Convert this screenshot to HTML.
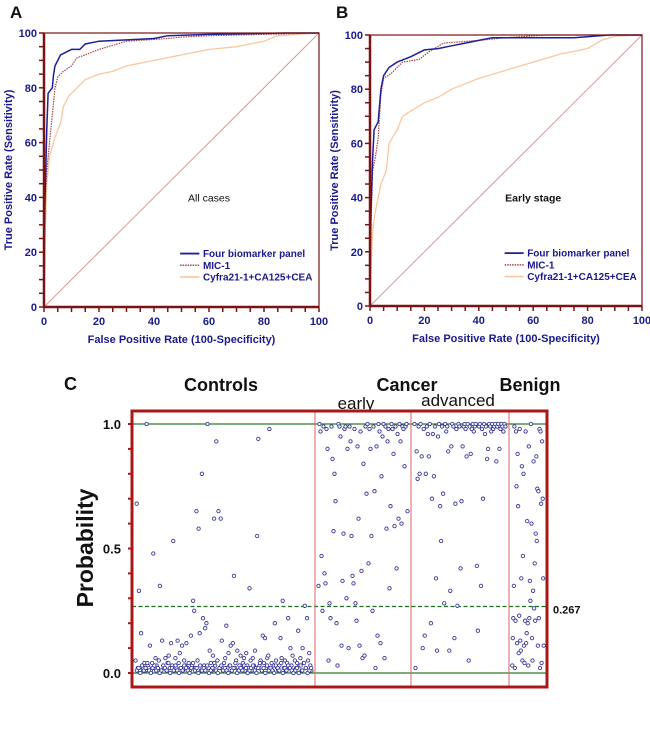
<!DOCTYPE html>
<html><head><meta charset="utf-8">
<style>
body{margin:0;background:#fff;width:650px;height:742px;overflow:hidden;font-family:"Liberation Sans",Arial,sans-serif;}
svg{position:absolute;left:0;top:0;}
</style></head>
<body>
<svg id="chart" width="650" height="742" viewBox="0 0 650 742" xmlns="http://www.w3.org/2000/svg"></svg>
<script>
// ===== Panel A data =====
const aFourX=[0,0,0.5,1,1.5,3,3.5,4,5,6,8,10,13,15,20,30,40,45,60,88,100];
const aFourY=[0,25,45,65,78,80,85,88,90,92,93,94,94,96,97,97.5,98,99,99.5,100,100];
const aMicX=[0,0.5,1,2,3,4,5,7,10,12,15,20,25,30,45,50,60,100];
const aMicY=[0,40,50,60,70,80,84,86,88,91,92,94,95.5,97,98,98.5,99,100];
const aCyfX=[0,0.5,1,2,4,6,7,9,12,15,20,25,30,40,50,60,70,80,85,100];
const aCyfY=[0,30,45,55,62,67,73,77,80,83,85,86,88,90,92,94,95,97,99,100];
// ===== Panel B data =====
const bFourX=[0,0,0.5,1,1.5,3,4,5,7,10,15,20,25,30,35,40,45,75,88,100];
const bFourY=[0,20,40,55,65,68,80,85,88,90,92,94.5,95,96,97,98,99,99,100,100];
const bMicX=[0,0.5,1,2,3,4,5,8,12,18,22,27,40,50,65,100];
const bMicY=[0,35,50,55,62,78,84,86,90,91,94,97,98,99,100,100];
const bCyfX=[0,0.5,1,2,3,4,6,7,10,12,15,20,25,30,35,40,50,60,70,80,85,90,100];
const bCyfY=[0,18,28,35,40,45,50,60,65,70,72,75,77,80,82,84,87,90,93,95,98,99.5,100];
const rocTicks=[0,20,40,60,80,100];
const seriesNames=["Four biomarker panel","MIC-1","Cyfra21-1+CA125+CEA"];
// ===== Panel C data =====
const groupNames=["Controls","Cancer","Benign"];
const subNames=["early","advanced"];
const probTicks=[0.0,0.5,1.0];
const cutoff=0.267;
const controls=[0.05,0.68,0.02,0.33,0.01,0.16,0.03,0.02,0.04,0.01,
1.0,0.03,0.02,0.11,0.01,0.04,0.48,0.02,0.06,0.03,
0.02,0.05,0.35,0.01,0.13,0.03,0.02,0.06,0.01,0.04,
0.07,0.02,0.12,0.03,0.53,0.01,0.06,0.02,0.13,0.04,
0.08,0.02,0.11,0.01,0.05,0.03,0.12,0.02,0.04,0.01,
0.15,0.03,0.29,0.25,0.02,0.65,0.05,0.58,0.16,0.01,
0.80,0.22,0.03,0.18,0.20,1.0,0.02,0.09,0.04,0.01,
0.07,0.62,0.03,0.93,0.05,0.65,0.02,0.62,0.13,0.01,
0.04,0.06,0.19,0.02,0.08,0.03,0.11,0.01,0.12,0.39,
0.02,0.05,0.09,0.01,0.03,0.07,0.02,0.04,0.06,0.01,
0.08,0.03,0.02,0.34,0.05,0.01,0.06,0.03,0.09,0.02,
0.55,0.94,0.03,0.05,0.01,0.15,0.04,0.14,0.02,0.06,
0.07,0.98,0.02,0.04,0.01,0.03,0.20,0.05,0.02,0.01,
0.03,0.14,0.06,0.29,0.02,0.05,0.01,0.04,0.22,0.02,
0.10,0.03,0.07,0.01,0.05,0.02,0.04,0.17,0.03,0.06,
0.01,0.10,0.04,0.27,0.02,0.22,0.05,0.08,0.03,0.01];
const controlsLow=[0.01,0.02,0.0,0.03,0.01,0.02,0.04,0.01,0.0,0.02,
0.03,0.01,0.02,0.0,0.01,0.03,0.02,0.01,0.04,0.0,
0.02,0.01,0.03,0.01,0.0,0.02,0.01,0.03,0.02,0.01,
0.0,0.02,0.04,0.01,0.02,0.0,0.03,0.01,0.02,0.01,
0.03,0.0,0.01,0.02,0.04,0.01,0.0,0.02,0.03,0.01,
0.02,0.01,0.0,0.03,0.01,0.02,0.04,0.0,0.01,0.02,
0.01,0.03,0.02,0.0,0.01,0.02,0.03,0.01,0.0,0.02,
0.04,0.01,0.02,0.0,0.03,0.01,0.02,0.01,0.0,0.03,
0.02,0.01,0.04,0.0,0.02,0.01,0.03,0.02,0.01,0.0,
0.01,0.02,0.0,0.03,0.01,0.04,0.02,0.0,0.01,0.02];
const early=[0.35,1.0,0.97,0.47,0.25,0.99,0.40,0.36,0.98,0.90,
0.05,0.28,0.22,0.99,0.86,0.57,0.80,0.69,0.20,0.03,
1.0,0.99,0.95,0.11,0.37,0.56,0.98,0.99,0.30,0.90,
0.10,0.99,0.93,0.55,0.39,0.36,0.98,0.28,0.21,0.91,
0.62,0.11,0.97,0.41,0.06,0.84,0.07,0.99,0.72,1.0,
0.44,0.98,0.90,0.55,0.25,0.99,0.73,0.02,0.91,0.15,
1.0,0.97,0.12,0.79,0.95,1.0,0.06,0.99,0.58,0.93,
0.98,0.34,0.67,1.0,0.98,0.88,0.59,0.99,0.42,0.96,
0.62,1.0,0.93,0.60,0.99,0.98,0.83,0.99,1.0,0.65];
const advanced=[1.0,0.02,0.89,0.78,0.99,0.80,1.0,0.87,0.10,0.98,
0.15,0.80,0.99,0.96,0.87,1.0,0.20,0.70,0.96,0.79,
0.99,0.38,0.09,0.95,1.0,0.67,0.53,0.99,0.72,0.28,
1.0,0.97,0.99,0.89,0.09,0.33,0.91,1.0,0.99,0.14,
0.68,0.98,0.27,1.0,0.99,0.42,0.69,0.91,0.99,1.0,
0.98,0.87,1.0,0.05,0.99,0.88,0.98,1.0,0.97,0.99,
1.0,0.43,0.17,0.99,1.0,0.35,0.98,0.70,1.0,0.96,
0.99,0.86,0.90,1.0,0.99,0.97,1.0,0.98,0.99,1.0,
0.85,0.99,1.0,0.90,0.98,1.0,0.99,0.97,1.0,0.99];
const benign=[0.03,0.14,0.22,0.35,0.99,0.02,0.21,0.97,0.75,0.12,
0.88,0.67,0.08,0.23,0.98,0.13,0.09,0.38,0.83,0.05,
0.47,0.80,0.11,0.04,0.21,0.97,0.12,0.16,0.61,0.20,
0.03,0.91,0.22,0.37,0.29,1.0,0.60,0.14,0.05,0.33,
0.85,0.26,0.44,0.21,0.56,0.87,0.53,0.74,0.11,0.73,
0.22,0.98,0.02,0.97,0.68,0.04,0.93,0.70,0.38,0.11];

const NS="http://www.w3.org/2000/svg";
const svg=document.getElementById('chart');
function mk(tag,attrs,parent,text){const e=document.createElementNS(NS,tag);for(const k in attrs)e.setAttribute(k,attrs[k]);if(text!==undefined)e.textContent=text;(parent||svg).appendChild(e);return e;}

const AX="#7a1414", BLUE="#1a1a8c";
function rocPanel(name,letter,x0,x1,y0,y1,inset,sets){
  const g=mk('g',{});
  
  
  const sx=v=>x0+(x1-x0)*v/100, sy=v=>y1-(y1-y0)*v/100;
  const L=mk('text',{x:x0-34,y:18,'font-size':17,'font-weight':'bold',fill:'#111'},g,letter);
  
  
  const dg=mk('line',{x1:sx(0),y1:sy(0),x2:sx(100),y2:sy(100),stroke:'#d49a9a','stroke-width':1},g);
  
  
  const styles=[{s:'#1f1f9a',w:1.5,d:''},{s:'#a44848',w:1.2,d:'1.5,1'},{s:'#f8c8a0',w:1.3,d:''}];
  const keys=['four-biomarker-curve','mic1-curve','cyfra-curve'];
  [2,1,0].forEach(k=>{
    const X=sets[k][0],Y=sets[k][1];
    let d='';X.forEach((v,i)=>{d+=(i?'L':'M')+sx(v).toFixed(1)+','+sy(Y[i]).toFixed(1);});
    const p=mk('path',{d:d,fill:'none',stroke:styles[k].s,'stroke-width':styles[k].w,'stroke-dasharray':styles[k].d},g);
    
    
  });
  const box=mk('rect',{x:x0,y:y0,width:x1-x0,height:y1-y0,fill:'none',stroke:AX,'stroke-width':1.2},g);
  
  
  mk('line',{x1:x0,y1:y0,x2:x0,y2:y1,stroke:AX,'stroke-width':2.5},g);
  mk('line',{x1:x0,y1:y1,x2:x1,y2:y1,stroke:AX,'stroke-width':2.5},g);
  for(let v=0;v<=100;v+=5){
    mk('line',{x1:x0-5,y1:sy(v),x2:x0,y2:sy(v),stroke:AX,'stroke-width':1.5},g);
    mk('line',{x1:sx(v),y1:y1,x2:sx(v),y2:y1+5,stroke:AX,'stroke-width':1.5},g);
  }
  rocTicks.forEach(v=>{
    const t=mk('text',{x:x0-7,y:sy(v)+4,'text-anchor':'end','font-size':11,'font-weight':'bold',fill:BLUE},g,String(v));
    
    
    const u=mk('text',{x:sx(v),y:y1+18,'text-anchor':'middle','font-size':11,'font-weight':'bold',fill:BLUE},g,String(v));
    
    
  });
  const xt=mk('text',{x:(x0+x1)/2,y:y1+36,'text-anchor':'middle','font-size':11,'font-weight':'bold',fill:BLUE},g,'False Positive Rate (100-Specificity)');
  
  
  const yt=mk('text',{x:0,y:0,transform:`translate(${x0-32},${(y0+y1)/2}) rotate(-90)`,'text-anchor':'middle','font-size':11,'font-weight':'bold',fill:BLUE},g,'True Positive Rate (Sensitivity)');
  
  
  const it=mk('text',{x:sx(60),y:sy(38.5),'text-anchor':'middle','font-size':10.5,'font-weight':inset.b?'bold':'normal',fill:'#111'},g,inset.t);
  
  
  seriesNames.forEach((n,k)=>{
    const yy=sy(19.5)+k*11.7;
    const lg=mk('g',{},g);
    
    
    mk('line',{x1:sx(49.5),y1:yy,x2:sx(56.5),y2:yy,stroke:styles[k].s,'stroke-width':styles[k].w+0.3,'stroke-dasharray':styles[k].d},lg);
    mk('text',{x:sx(57.8),y:yy+3.5,'font-size':10,'font-weight':'bold',fill:BLUE},lg,n);
  });
}
rocPanel('roc-panel-a','A',44,319,33,307,{t:'All cases',b:false},[[aFourX,aFourY],[aMicX,aMicY],[aCyfX,aCyfY]]);
rocPanel('roc-panel-b','B',370,642,35,306,{t:'Early stage',b:true},[[bFourX,bFourY],[bMicX,bMicY],[bCyfX,bCyfY]]);

// ===== Panel C =====
(function(){
  const g=mk('g',{});
  
  
  const X0=132,X1=547,T=411,B=687;
  const py=v=>673-(673-424)*v;
  const bounds=[X0,315,411,509,X1];
  const L=mk('text',{x:64,y:390,'font-size':18,'font-weight':'bold',fill:'#111'},g,'C');
  
  
  const gx=[221,407,530];
  groupNames.forEach((n,i)=>{
    const t=mk('text',{x:gx[i],y:391,'text-anchor':'middle','font-size':18,'font-weight':'bold',fill:'#111'},g,n);
    
    
  });
  [[356,409],[458,406]].forEach((p,i)=>{
    const t=mk('text',{x:p[0],y:p[1],'text-anchor':'middle','font-size':17,fill:'#111'},g,subNames[i]);
    
    
  });
  [0,1].forEach(v=>{
    const l=mk('line',{x1:X0,y1:py(v),x2:X1,y2:py(v),stroke:'#2d7a2d','stroke-width':1.3},g);
    
    
  });
  const c=mk('line',{x1:X0,y1:py(cutoff),x2:X1,y2:py(cutoff),stroke:'#1f6e1f','stroke-width':1.3,'stroke-dasharray':'4,2.5'},g);
  
  
  const ct=mk('text',{x:553,y:py(cutoff)+7,'font-size':11,'font-weight':'bold',fill:'#111'},g,String(cutoff));
  
  
  [1,2,3].forEach(i=>{
    const l=mk('line',{x1:bounds[i],y1:T,x2:bounds[i],y2:B,stroke:'#d86464','stroke-width':1},g);
    
    
  });
  const groups=[[controls,0],[controlsLow,0],[early,1],[advanced,2],[benign,3]];
  groups.forEach(([arr,gi],k)=>{
    const a=bounds[gi]+3,b=bounds[gi+1]-3,n=arr.length;
    const off=k===1?0.5:0;
    arr.forEach((v,i)=>{
      const cx=a+(b-a)*(i+0.5+off)/(n+off);
      const p=mk('circle',{cx:cx.toFixed(1),cy:py(v).toFixed(1),r:1.7,fill:'#fff',stroke:'#3a3a9a','stroke-width':0.9},g);
      
      
    });
  });
  const box=mk('rect',{x:X0,y:T,width:X1-X0,height:B-T,fill:'none',stroke:'#a81818','stroke-width':3},g);
  
  
  for(let v=0;v<=1.001;v+=0.1){
    mk('line',{x1:X0-4,y1:py(v),x2:X0,y2:py(v),stroke:'#a81818','stroke-width':2},g);
  }
  probTicks.forEach(v=>{
    const t=mk('text',{x:X0-11,y:py(v)+5,'text-anchor':'end','font-size':13,'font-weight':'bold',fill:'#111'},g,v.toFixed(1));
    
    
  });
  const yt=mk('text',{x:0,y:0,transform:'translate(93,548) rotate(-90)','text-anchor':'middle','font-size':23,'font-weight':'bold',fill:'#111'},g,'Probability');
  
  
})();
</script>
</body></html>
